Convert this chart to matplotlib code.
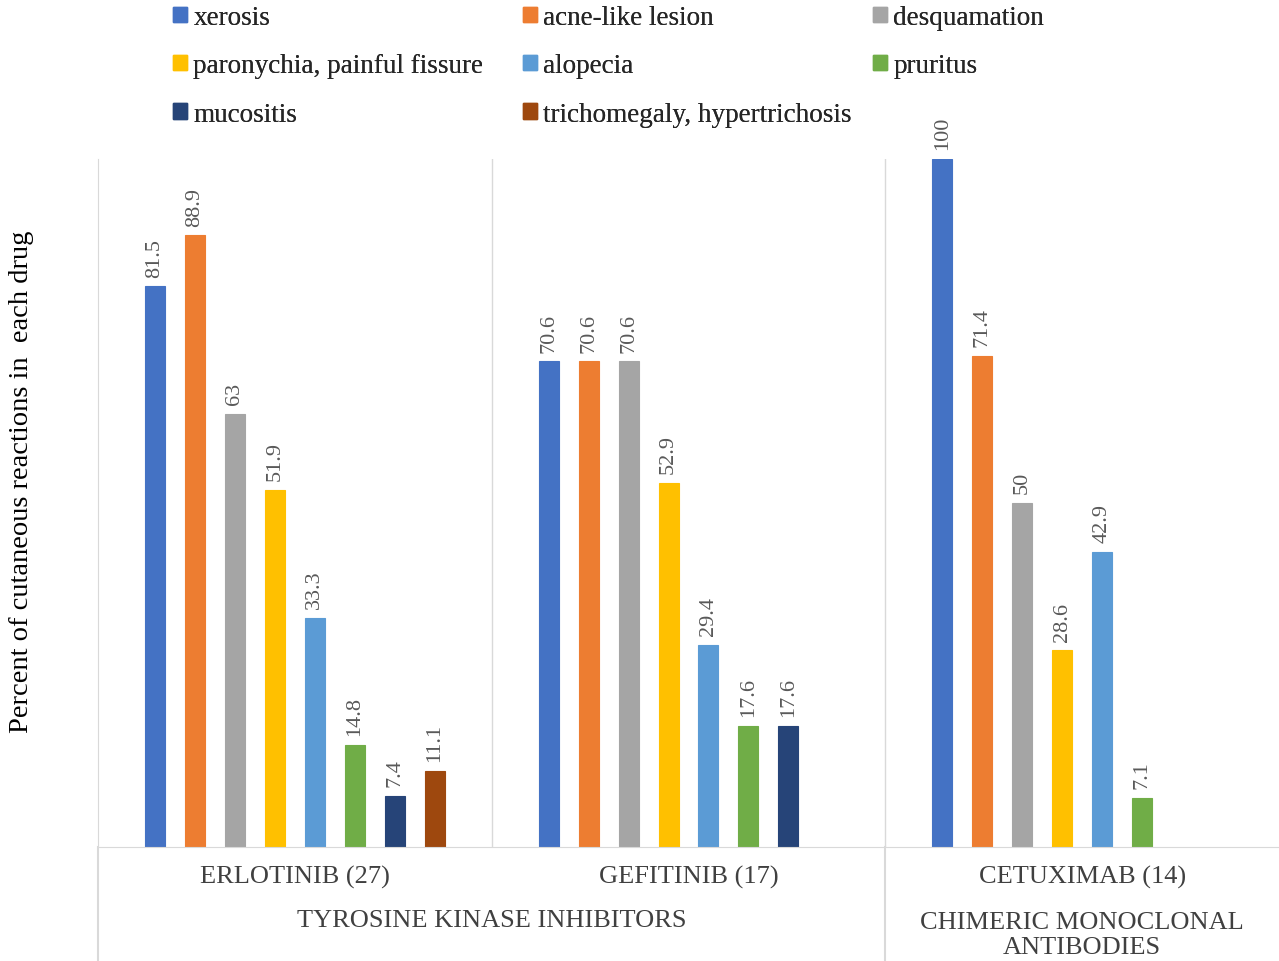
import matplotlib
matplotlib.use("Agg")
import matplotlib.pyplot as plt
from matplotlib.patches import Patch

plt.rcParams['font.family'] = ['Liberation Serif', 'DejaVu Serif']

drugs = ["ERLOTINIB (27)", "GEFITINIB (17)", "CETUXIMAB (14)"]
classes = ["TYROSINE KINASE INHIBITORS", "CHIMERIC MONOCLONAL\nANTIBODIES"]
reactions = ["xerosis", "acne-like lesion", "desquamation",
             "paronychia, painful fissure", "alopecia", "pruritus",
             "mucositis", "trichomegaly, hypertrichosis"]
colors = ["#4472C4", "#ED7D31", "#A5A5A5", "#FFC000",
          "#5B9BD5", "#70AD47", "#264478", "#9E480E"]

# percent per reaction, one list per drug (None = not reported)
erlotinib = [81.5, 88.9, 63, 51.9, 33.3, 14.8, 7.4, 11.1]
gefitinib = [70.6, 70.6, 70.6, 52.9, 29.4, 17.6, 17.6, None]
cetuximab = [100, 71.4, 50, 28.6, 42.9, 7.1, None, None]
values = [erlotinib, gefitinib, cetuximab]

W, H = 1279, 962
fig = plt.figure(figsize=(W / 100, H / 100), dpi=100)
ax = fig.add_axes([98 / W, 1 - 848 / H, 1 - 98 / W, (848 - 160) / H])
ax.set_xlim(-0.5, 2.5)
ax.set_ylim(0, 100)

slot = 40 / 393.7
bw = 20 / 393.7
n = len(reactions)
for c, drug_vals in enumerate(values):
    for i, v in enumerate(drug_vals):
        if v is None:
            continue
        x = c + (i - (n - 1) / 2) * slot
        ax.bar(x, v, width=bw, color=colors[i], edgecolor=colors[i], linewidth=0.8)
        ax.annotate(f"{v:g}", (x, v), xytext=(0, 7), textcoords="offset points",
                    rotation=90, ha="center", va="bottom", fontsize=16,
                    color="#595959")

grid = "#D9D9D9"
for s in ["top", "right"]:
    ax.spines[s].set_visible(False)
ax.spines["left"].set_color(grid)
ax.spines["bottom"].set_color(grid)
ax.set_xticks([])
ax.set_yticks([])
ax.axvline(0.5, color=grid, lw=1)
ax.axvline(1.5, color=grid, lw=1)
bottom = -(H - 848) / 688
tr = ax.get_xaxis_transform()
for xv in [-0.5, 1.5]:
    ax.plot([xv, xv], [0, bottom], color=grid, lw=1.5, transform=tr, clip_on=False)

for c, d in enumerate(drugs):
    ax.text(c, -0.043, d, transform=tr, ha="center", va="center",
            fontsize=19, color="#404040")
ax.text(0.5, -0.106, classes[0], transform=tr, ha="center", va="center",
        fontsize=19, color="#404040")
ax.text(2, -0.127, classes[1], transform=tr, ha="center", va="center",
        fontsize=19, color="#404040", linespacing=1.15)

fig.text(22 / W, 1 - 482 / H, "Percent of cutaneous reactions in  each drug",
         rotation=90, ha="center", va="center", fontsize=20.5)

handles = [Patch(facecolor=colors[i], edgecolor=colors[i], label=reactions[i])
           for i in range(n)]
col_x = [173, 523, 873]
for k in range(3):
    leg = fig.legend(handles=handles[k::3], loc="upper left",
                     bbox_to_anchor=(col_x[k] / W, 1 - 6 / H),
                     frameon=False, fontsize=19.5, handlelength=0.5,
                     handleheight=0.5, handletextpad=0.25, labelspacing=0.86,
                     borderpad=0, borderaxespad=0)
    for t in leg.get_texts():
        t.set_color("#262626")
    fig.add_artist(leg)

fig.savefig("out.png", dpi=100)
